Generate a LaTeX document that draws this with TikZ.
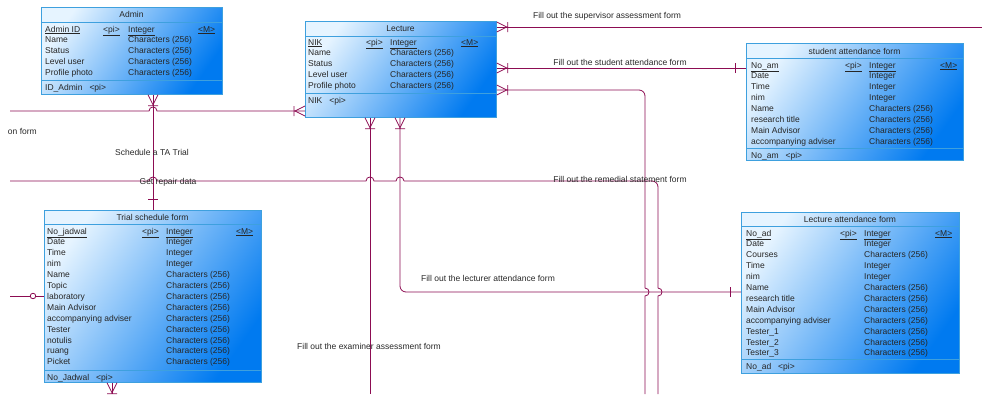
\documentclass[tikz,border=0pt]{standalone}
\usepackage{fontspec}
\setmainfont{Liberation Sans}
\usepackage{xcolor}
\usepackage{tikz}
\usetikzlibrary{calc}

\definecolor{relline}{RGB}{140,12,82}
\definecolor{boxline}{RGB}{62,160,222}
\definecolor{boxlight}{RGB}{230,244,255}
\definecolor{boxmid}{RGB}{96,174,246}
\definecolor{boxdark}{RGB}{0,122,240}
\definecolor{lbltext}{RGB}{40,40,40}

\tikzset{
  entity/.style={draw=boxline, line width=0.8pt, anchor=north west, inner sep=0pt,
    top color=boxlight, middle color=boxmid, bottom color=boxdark, shading angle=55},
  esep/.style={draw=boxline, line width=0.8pt},
  cell/.style={anchor=base west, inner sep=0pt, text=black!85},
  etitle/.style={anchor=base, inner sep=0pt, text=black!85},
  rel/.style={draw=relline, line width=0.8pt},
  lbl/.style={inner sep=0pt, text=lbltext},
  ring/.style={circle, draw=relline, fill=white, line width=0.8pt, minimum size=5.5pt, inner sep=0pt},
  hopup/.style={out=90, in=90, looseness=1.7},
  hopright/.style={out=0, in=0, looseness=1.7},
  pics/manyone/.style={code={
    \draw[rel] (0,-5) -- (10,0) -- (0,5) (11,-5) -- (11,5);}},
  pics/onlyone/.style={code={
    \draw[rel] (11,-5) -- (11,5);}},
}

\begin{document}
\begin{tikzpicture}[x=1pt, y=-1pt, font=\fontsize{8.5}{10}\selectfont]
  \useasboundingbox (0,0) rectangle (982,394);

  % Admin
  \begin{scope}[shift={(41,7)}]
    \node[entity, minimum width=181pt, minimum height=87pt] (admin) at (0,0) {};
    \node[etitle] (admin-title) at (90.5,10.5) {Admin};
    \draw[esep] (0,15.5) -- (181,15.5) (0,73) -- (181,73);
    \node[cell] (admin-key) at (4,25) {\underline{Admin ID}};
    \node[cell] (admin-pi) at (62,25) {\underline{<pi>}};
    \node[cell] (admin-int) at (87,25) {\underline{Integer}};
    \node[cell] (admin-m) at (157,25) {\underline{<M>}};
    \foreach \nm/\ty [count=\i] in {Name/Characters (256), Status/Characters (256),
        Level user/Characters (256), Profile photo/Characters (256)} {
      \node[cell] (admin-n\i) at (4,25+10.9*\i) {\nm};
      \node[cell] (admin-t\i) at (87,25+10.9*\i) {\ty};
    }
    \node[cell] (admin-foot) at (4,83) {ID\_Admin\hspace{7pt}<pi>};
  \end{scope}

  % Lecture
  \begin{scope}[shift={(305,21)}]
    \node[entity, minimum width=191pt, minimum height=96pt] (lecture) at (0,0) {};
    \node[etitle] (lecture-title) at (95.5,10) {Lecture};
    \draw[esep] (0,15) -- (191,15) (0,72) -- (191,72);
    \node[cell] (lecture-key) at (3,24) {\underline{NIK}};
    \node[cell] (lecture-pi) at (61,24) {\underline{<pi>}};
    \node[cell] (lecture-int) at (85,24) {\underline{Integer}};
    \node[cell] (lecture-m) at (156,24) {\underline{<M>}};
    \foreach \nm/\ty [count=\i] in {Name/Characters (256), Status/Characters (256),
        Level user/Characters (256), Profile photo/Characters (256)} {
      \node[cell] (lecture-n\i) at (3,24+10.9*\i) {\nm};
      \node[cell] (lecture-t\i) at (85,24+10.9*\i) {\ty};
    }
    \node[cell] (lecture-foot) at (3,82) {NIK\hspace{7pt}<pi>};
  \end{scope}

  % student attendance form
  \begin{scope}[shift={(746,43)}]
    \node[entity, minimum width=217pt, minimum height=117pt] (stuatt) at (0,0) {};
    \node[etitle] (stuatt-title) at (108.5,11) {student attendance form};
    \draw[esep] (0,15) -- (217,15) (0,105) -- (217,105);
    \node[cell] (stuatt-key) at (5,25) {\underline{No\_am}};
    \node[cell] (stuatt-pi) at (99,25) {\underline{<pi>}};
    \node[cell] (stuatt-int) at (123,25) {\underline{Integer}};
    \node[cell] (stuatt-m) at (194,25) {\underline{<M>}};
    \foreach \nm/\ty [count=\i] in {Date/Integer, Time/Integer, nim/Integer,
        Name/Characters (256), research title/Characters (256),
        Main Advisor/Characters (256), accompanying adviser/Characters (256)} {
      \node[cell] (stuatt-n\i) at (5,25+10.9*\i) {\nm};
      \node[cell] (stuatt-t\i) at (123,25+10.9*\i) {\ty};
    }
    \node[cell] (stuatt-foot) at (5,115) {No\_am\hspace{7pt}<pi>};
  \end{scope}

  % Trial schedule form
  \begin{scope}[shift={(44,210)}]
    \node[entity, minimum width=217pt, minimum height=172pt] (trial) at (0,0) {};
    \node[etitle] (trial-title) at (108.5,10) {Trial schedule form};
    \draw[esep] (0,14) -- (217,14) (0,160) -- (217,160);
    \node[cell] (trial-key) at (3,24) {\underline{No\_jadwal}};
    \node[cell] (trial-pi) at (98,24) {\underline{<pi>}};
    \node[cell] (trial-int) at (122,24) {\underline{Integer}};
    \node[cell] (trial-m) at (192,24) {\underline{<M>}};
    \foreach \nm/\ty [count=\i] in {Date/Integer, Time/Integer, nim/Integer,
        Name/Characters (256), Topic/Characters (256), laboratory/Characters (256),
        Main Advisor/Characters (256), accompanying adviser/Characters (256),
        Tester/Characters (256), notulis/Characters (256), ruang/Characters (256),
        Picket/Characters (256)} {
      \node[cell] (trial-n\i) at (3,24+10.9*\i) {\nm};
      \node[cell] (trial-t\i) at (122,24+10.9*\i) {\ty};
    }
    \node[cell] (trial-foot) at (3,170) {No\_Jadwal\hspace{7pt}<pi>};
  \end{scope}

  % Lecture attendance form
  \begin{scope}[shift={(741,212)}]
    \node[entity, minimum width=218pt, minimum height=161pt] (lecatt) at (0,0) {};
    \node[etitle] (lecatt-title) at (109,10) {Lecture attendance form};
    \draw[esep] (0,14) -- (218,14) (0,147) -- (218,147);
    \node[cell] (lecatt-key) at (5,24) {\underline{No\_ad}};
    \node[cell] (lecatt-pi) at (99,24) {\underline{<pi>}};
    \node[cell] (lecatt-int) at (123,24) {\underline{Integer}};
    \node[cell] (lecatt-m) at (194,24) {\underline{<M>}};
    \foreach \nm/\ty [count=\i] in {Date/Integer, Courses/Characters (256),
        Time/Integer, nim/Integer, Name/Characters (256),
        research title/Characters (256), Main Advisor/Characters (256),
        accompanying adviser/Characters (256), Tester\_1/Characters (256),
        Tester\_2/Characters (256), Tester\_3/Characters (256)} {
      \node[cell] (lecatt-n\i) at (5,24+10.9*\i) {\nm};
      \node[cell] (lecatt-t\i) at (123,24+10.9*\i) {\ty};
    }
    \node[cell] (lecatt-foot) at (5,157) {No\_ad\hspace{7pt}<pi>};
  \end{scope}

  % loose ends going out of the picture
  \coordinate (supv) at (982,27);
  \coordinate (offW1) at (10,111);
  \coordinate (offW2) at (10,181);
  \coordinate (offW3) at (10,296);
  \coordinate (offS1) at (645,394);
  \coordinate (offS2) at (658,394);
  \coordinate (offS3) at (370,394);
  \coordinate (offS4) at (112,394);

  % relationships
  \draw[rel] (lecture.east |- supv) -- (supv);
  \pic at (lecture.east |- supv) {manyone};

  \draw[rel] (lecture.east |- 0,68) -- (stuatt.west |- 0,68);
  \pic at (lecture.east |- 0,68) {manyone};
  \pic[rotate=180] at (stuatt.west |- 0,68) {onlyone};

  \draw[rel, rounded corners=6pt] (lecture.east |- 0,90) -- (645,90) -- (645,288);
  \draw[rel] (645,288) to[hopright] (645,296) -- (offS1);
  \pic at (lecture.east |- 0,90) {manyone};

  \draw[rel] (offW2) -- (149,181) to[hopup] (157,181) -- (366,181) to[hopup] (374,181)
    -- (396,181) to[hopup] (404,181);
  \draw[rel, rounded corners=6pt] (404,181) -- (658,181) -- (658,288);
  \draw[rel] (658,288) to[hopright] (658,296) -- (offS2);

  \draw[rel] (153,0 |- admin.south) -- (153,0 |- trial.north);
  \pic[rotate=-90] at (153,0 |- admin.south) {manyone};
  \pic[rotate=90] at (153,0 |- trial.north) {onlyone};

  \draw[rel] (offW1) -- (149,111) to[hopup] (157,111) -- (lecture.west |- offW1);
  \pic[rotate=180] at (lecture.west |- offW1) {manyone};

  \draw[rel] (370,0 |- lecture.south) -- (offS3);
  \pic[rotate=-90] at (370,0 |- lecture.south) {manyone};

  \draw[rel, rounded corners=6pt] (400,0 |- lecture.south) -- (400,292) -- (lecatt.west |- 0,292);
  \pic[rotate=-90] at (400,0 |- lecture.south) {manyone};
  \pic[rotate=180] at (lecatt.west |- 0,292) {onlyone};

  \draw[rel] (offW3) -- (trial.west |- offW3);
  \node[ring] (trial-ring) at (33,296) {};

  \draw[rel] (112,0 |- trial.south) -- (offS4);
  \pic[rotate=-90] at (112,0 |- trial.south) {manyone};

  % relationship names
  \node[lbl] (l-supv) at (607,16) {Fill out the supervisor assessment form};
  \node[lbl] (l-stu) at (620,62) {Fill out the student attendance form};
  \node[lbl, anchor=east] (l-left) at (37,131) {on form};
  \node[lbl] (l-sched) at (152,152) {Schedule a TA Trial};
  \node[lbl] (l-repair) at (168,182) {Get repair data};
  \node[lbl] (l-remed) at (620,179) {Fill out the remedial statement form};
  \node[lbl] (l-lect) at (488,278) {Fill out the lecturer attendance form};
  \node[lbl] (l-exam) at (369,346) {Fill out the examiner assessment form};
\end{tikzpicture}
\end{document}
